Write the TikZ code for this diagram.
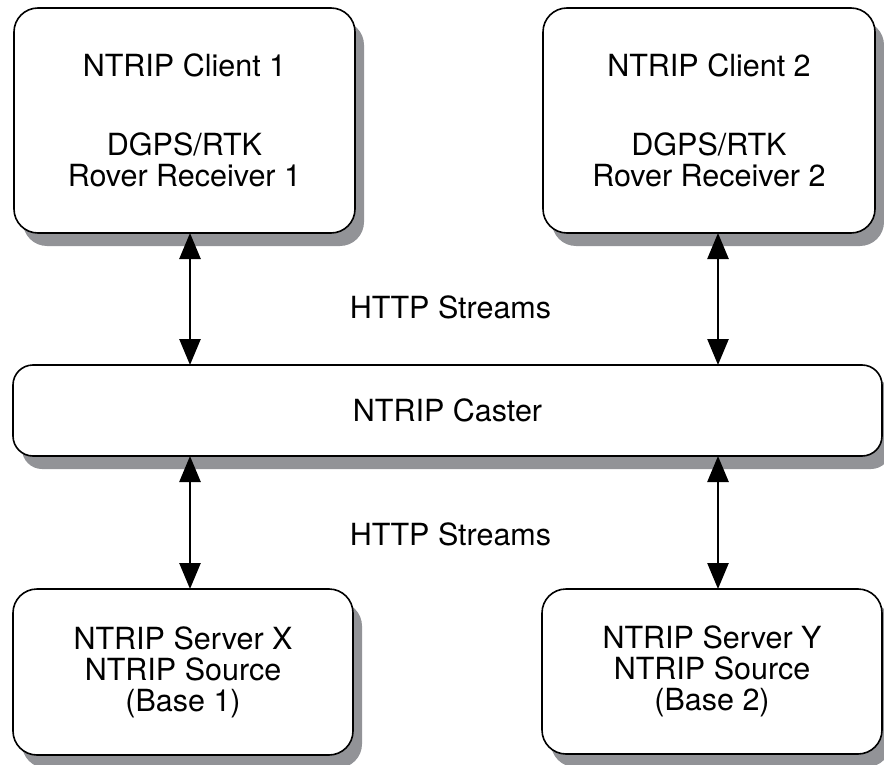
\documentclass[tikz,border=0pt]{standalone}
\usepackage{fontspec}
\setmainfont{TeX Gyre Heros}
\usetikzlibrary{arrows.meta,shadows}
\definecolor{shadowgray}{RGB}{146,147,151}
\tikzset{
  box/.style={draw=black, fill=white, line width=1.6pt, rounded corners=24pt,
    inner sep=0pt, outer sep=0pt, align=center,
    font=\fontsize{30.5}{31}\selectfont,
    general shadow={fill=shadowgray, shadow xshift=9pt, shadow yshift=-13pt}},
  lbl/.style={inner sep=0pt, font=\fontsize{30.5}{31}\selectfont},
  link/.style={line width=2.6pt, {Triangle[length=26pt,width=21pt]}-{Triangle[length=26pt,width=21pt]}}
}
\begin{document}
\begin{tikzpicture}[x=1pt,y=-1pt]
\useasboundingbox (0,0) rectangle (884,765);
\node[box, minimum width=341pt, minimum height=225pt] (c1) at (184.5,120.5)
  {NTRIP Client 1\\[48pt]DGPS/RTK\\Rover Receiver 1};
\node[box, minimum width=332pt, minimum height=225pt] (c2) at (709,120.5)
  {NTRIP Client 2\\[48pt]DGPS/RTK\\Rover Receiver 2};
\node[box, rounded corners=20pt, minimum width=869pt, minimum height=91pt] (cast) at (447.5,410.5)
  {NTRIP Caster};
\node[box, minimum width=340pt, minimum height=166pt] (s1) at (183,672)
  {NTRIP Server X\\NTRIP Source\\(Base 1)};
\node[box, minimum width=340pt, minimum height=165pt] (s2) at (712,671.5)
  {NTRIP Server Y\\NTRIP Source\\(Base 2)};
\node[lbl] (h1) at (450.5,307.5) {HTTP Streams};
\node[lbl] (h2) at (450.5,534) {HTTP Streams};
\coordinate (xl) at (190,0);
\coordinate (xr) at (718,0);
\draw[link] (c1.south -| xl) -- (cast.north -| xl);
\draw[link] (c2.south -| xr) -- (cast.north -| xr);
\draw[link] (cast.south -| xl) -- (s1.north -| xl);
\draw[link] (cast.south -| xr) -- (s2.north -| xr);
\end{tikzpicture}
\end{document}
